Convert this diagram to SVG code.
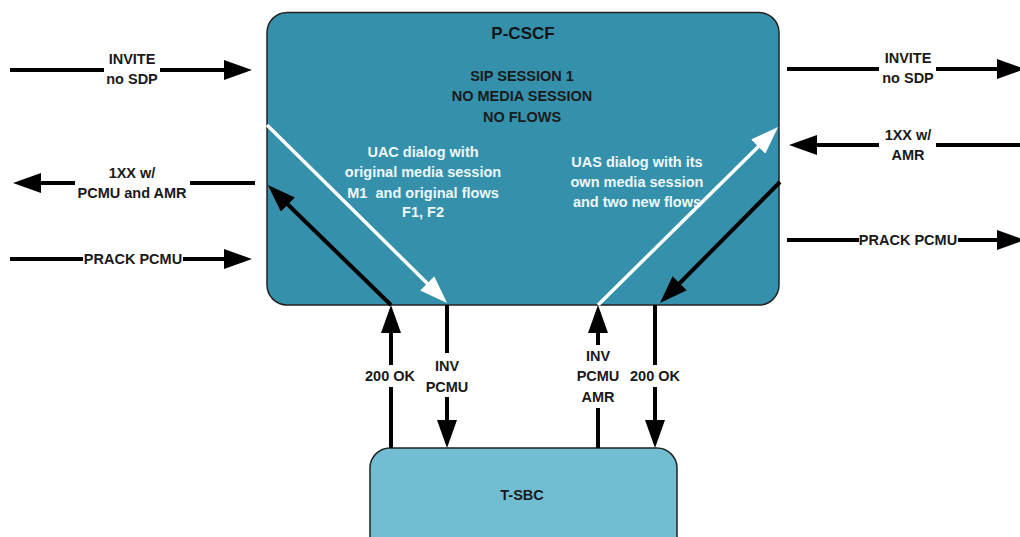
<svg xmlns="http://www.w3.org/2000/svg" width="1020" height="537" viewBox="0 0 1020 537">
<style>
text{font-family:"Liberation Sans",Arial,sans-serif;font-weight:bold;font-size:14.5px;text-anchor:middle;fill:#1a1a1a}
.w{fill:#eef7fa}
.title{font-size:17px;fill:#101418}
.box{stroke:#222;stroke-width:1.5}
.blk{fill:none;stroke:#000;stroke-width:4}
.wht{fill:none;stroke:#fff;stroke-width:3.5}
</style>
<defs>
<marker id="ab" markerUnits="userSpaceOnUse" markerWidth="28" markerHeight="20" refX="18" refY="10" orient="auto" viewBox="0 0 28 20">
<path d="M0,0 L28,10 L0,20 z" fill="#000"/>
</marker>
<marker id="aw" markerUnits="userSpaceOnUse" markerWidth="28" markerHeight="20" refX="18" refY="10" orient="auto" viewBox="0 0 28 20">
<path d="M0,0 L28,10 L0,20 z" fill="#fff"/>
</marker>
</defs>
<rect width="1020" height="537" fill="#fff"/>
<g id="pcscf">
<rect class="box" x="267" y="12.5" width="512" height="292.5" rx="20" fill="#3591ab"/>
<text class="title" x="523" y="39">P-CSCF</text>
<text x="522" y="81">SIP SESSION 1</text>
<text x="522" y="101">NO MEDIA SESSION</text>
<text x="522" y="122">NO FLOWS</text>
<text class="w" x="423" y="157">UAC dialog with</text>
<text class="w" x="423" y="177">original media session</text>
<text class="w" x="423" y="198" xml:space="preserve">M1  and original flows</text>
<text class="w" x="423" y="217">F1, F2</text>
<text class="w" x="637" y="167">UAS dialog with its</text>
<text class="w" x="637" y="187">own media session</text>
<text class="w" x="637" y="207">and two new flows</text>
</g>
<g id="tsbc">
<rect class="box" x="370" y="448" width="307" height="110" rx="20" fill="#71bed3"/>
<text x="522" y="500">T-SBC</text>
</g>
<g id="connectors">
<!-- left side -->
<path class="blk" d="M10,70 H104 M160,70 H242" marker-end="url(#ab)"/>
<text x="132" y="64">INVITE</text>
<text x="132" y="84">no SDP</text>
<path class="blk" d="M255,183 H190 M75,183 H23" marker-end="url(#ab)"/>
<text x="132" y="178">1XX w/</text>
<text x="132" y="198">PCMU and AMR</text>
<path class="blk" d="M10,259 H83 M183,259 H242" marker-end="url(#ab)"/>
<text x="133" y="264">PRACK PCMU</text>
<!-- right side -->
<path class="blk" d="M787,69 H879 M936,69 H1015" marker-end="url(#ab)"/>
<text x="908" y="63">INVITE</text>
<text x="908" y="83">no SDP</text>
<path class="blk" d="M1020,145 H936 M879,145 H799" marker-end="url(#ab)"/>
<text x="908" y="140">1XX w/</text>
<text x="908" y="160">AMR</text>
<path class="blk" d="M787,240 H859 M958,240 H1015" marker-end="url(#ab)"/>
<text x="908" y="245">PRACK PCMU</text>
<!-- diagonals -->
<path class="blk" d="M391,305 L275,192" marker-end="url(#ab)"/>
<path class="wht" d="M267,125 L440,296" marker-end="url(#aw)"/>
<path class="wht" d="M598,305 L771,134" marker-end="url(#aw)"/>
<path class="blk" d="M780,182 L667,296" marker-end="url(#ab)"/>
<!-- verticals -->
<path class="blk" d="M391,448 V387 M391,365 V315" marker-end="url(#ab)"/>
<text x="390" y="381">200 OK</text>
<path class="blk" d="M447,305 V353 M447,397 V438" marker-end="url(#ab)"/>
<text x="447" y="371">INV</text>
<text x="447" y="392">PCMU</text>
<path class="blk" d="M598,448 V408 M598,345 V315" marker-end="url(#ab)"/>
<text x="598" y="361">INV</text>
<text x="598" y="381">PCMU</text>
<text x="598" y="402">AMR</text>
<path class="blk" d="M655,305 V365 M655,387 V438" marker-end="url(#ab)"/>
<text x="655" y="381">200 OK</text>
</g>
</svg>
